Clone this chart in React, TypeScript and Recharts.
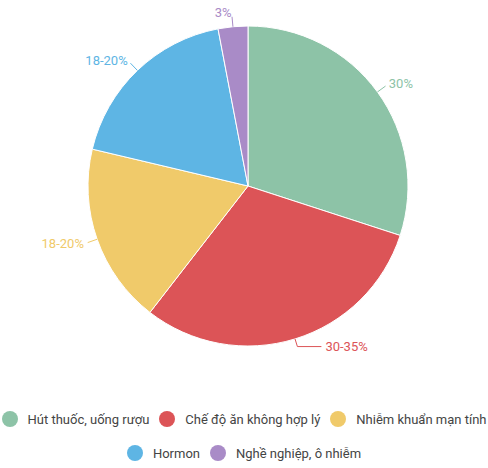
import { PieChart, Pie, Cell, Legend } from 'recharts'

const causes = ['Hút thuốc, uống rượu', 'Chế độ ăn không hợp lý', 'Nhiễm khuẩn mạn tính', 'Hormon', 'Nghề nghiệp, ô nhiễm']
const shares = [30, 30.5, 18.2, 18.3, 3]
const shareLabels = ['30%', '30-35%', '18-20%', '18-20%', '3%']
const colors = ['#8DC3A7', '#DC5457', '#F0CA6A', '#5EB5E4', '#A98BC7']
const legendRows = [[0, 1, 2], [3, 4]]

const data = causes.map((name, i) => ({ name, value: shares[i], label: shareLabels[i] }))

const RADIAN = Math.PI / 180
const FONT = 'Roboto, "Noto Sans", sans-serif'

function renderLabel(props: any) {
  const { cx, cy, midAngle, outerRadius, index } = props
  const cos = Math.cos(-midAngle * RADIAN)
  const sin = Math.sin(-midAngle * RADIAN)
  const sx = cx + outerRadius * cos
  const sy = cy + outerRadius * sin
  const right = cos >= 0
  // labels near the bottom get a short horizontal leg
  const leg = sin > 0.9 ? 24 : 0
  const r2 = leg ? outerRadius + 8 : outerRadius + 10
  const mx = cx + r2 * cos
  const my = cy + r2 * sin
  const ex = mx + (right ? leg : -leg)
  const ey = my
  const tx = leg ? ex + (right ? 4 : -4) : cx + (outerRadius + 14) * cos
  const ty = leg ? ey : cy + (outerRadius + 14) * sin
  return (
    <g>
      <polyline points={`${sx},${sy} ${mx},${my} ${ex},${ey}`} fill="none" stroke={colors[index]} strokeWidth={1} />
      <text x={tx} y={ty} textAnchor={right ? 'start' : 'end'} dominantBaseline="central" fill={colors[index]} fontSize={13} fontFamily={FONT}>
        {shareLabels[index]}
      </text>
    </g>
  )
}

function LegendRows() {
  return (
    <div style={{ width: 488, fontFamily: FONT, fontSize: 13, color: '#444' }}>
      {legendRows.map((row, r) => (
        <div key={r} style={{ display: 'flex', justifyContent: 'center', whiteSpace: 'nowrap' }}>
          {row.map((i) => (
            <div key={causes[i]} style={{ display: 'flex', alignItems: 'center', height: 34, margin: '0 5px' }}>
              <span style={{ width: 16, height: 16, borderRadius: 8, background: colors[i], marginRight: 10, display: 'inline-block' }} />
              <span>{causes[i]}</span>
            </div>
          ))}
        </div>
      ))}
    </div>
  )
}

export default function App() {
  return (
    <div style={{ position: 'absolute', left: 0, top: 0, width: 488, height: 468, background: '#fff' }}>
      <PieChart width={488} height={468} margin={{ top: 0, right: 0, bottom: 0, left: 0 }}>
        <Pie
          data={data}
          dataKey="value"
          nameKey="name"
          cx={248}
          cy={186}
          outerRadius={160}
          startAngle={90}
          endAngle={-270}
          stroke="#fff"
          strokeWidth={1}
          label={renderLabel}
          labelLine={false}
          isAnimationActive={false}
        >
          {data.map((d, i) => (
            <Cell key={d.name} fill={colors[i]} />
          ))}
        </Pie>
        <Legend content={<LegendRows />} wrapperStyle={{ position: 'absolute', left: 0, top: 402, width: 488 }} />
      </PieChart>
    </div>
  )
}
